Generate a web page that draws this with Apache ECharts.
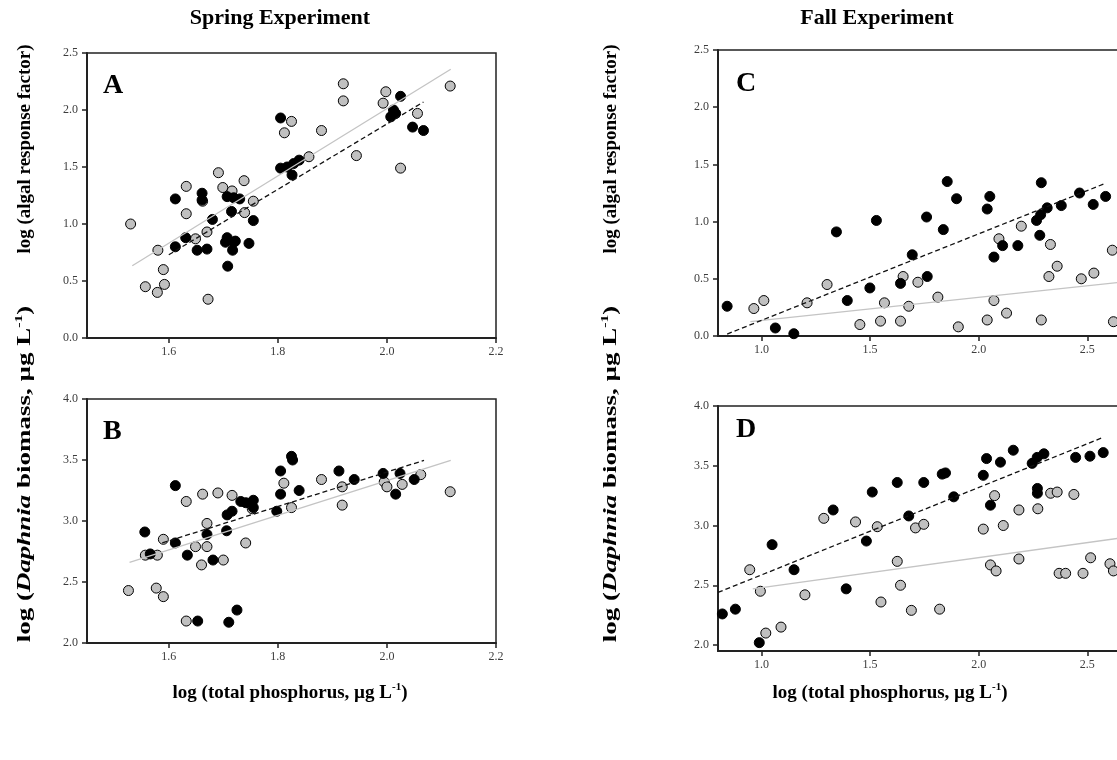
<!DOCTYPE html>
<html><head><meta charset="utf-8">
<script src="https://cdn.jsdelivr.net/npm/echarts@6/dist/echarts.min.js"></script>
<style>html,body{margin:0;padding:0;background:#fff}#c{width:1117px;height:760px}</style>
</head><body><div id="c"></div>
<script>
// ---------- DATA ----------
const springAlgaeBlack = [[1.612,1.22],[1.661,1.27],[1.661,1.21],[1.707,1.24],[1.719,1.23],[1.73,1.22],[1.715,1.11],[1.68,1.04],[1.755,1.03],[1.631,0.88],[1.707,0.88],[1.722,0.85],[1.747,0.83],[1.612,0.80],[1.652,0.77],[1.67,0.78],[1.704,0.84],[1.719,0.84],[1.717,0.77],[1.708,0.63],[2.025,2.12],[2.012,2.0],[2.007,1.94],[2.016,1.97],[2.047,1.85],[2.067,1.82],[1.805,1.93],[1.805,1.49],[1.817,1.50],[1.829,1.53],[1.839,1.56],[1.826,1.43]];
const springAlgaeGray = [[1.530,1.00],[1.691,1.45],[1.738,1.38],[1.632,1.33],[1.662,1.20],[1.699,1.32],[1.716,1.29],[1.755,1.20],[1.632,1.09],[1.739,1.10],[1.67,0.93],[1.649,0.87],[1.58,0.77],[1.59,0.60],[1.557,0.45],[1.579,0.40],[1.592,0.47],[1.672,0.34],[1.92,2.23],[1.92,2.08],[1.998,2.16],[1.993,2.06],[2.116,2.21],[2.056,1.97],[1.825,1.90],[1.812,1.80],[1.88,1.82],[1.944,1.60],[2.025,1.49],[1.857,1.59]];
const springAlgaeFitBlack = [[1.6,0.73],[2.067,2.07]];
const springAlgaeFitGray = [[1.533,0.634],[2.117,2.357]];

const springDaphBlack = [[1.612,3.29],[1.732,3.16],[1.741,3.15],[1.755,3.17],[1.755,3.11],[1.707,3.05],[1.716,3.08],[1.805,3.41],[1.825,3.53],[1.827,3.50],[1.805,3.22],[1.839,3.25],[1.912,3.41],[1.94,3.34],[1.798,3.08],[1.993,3.39],[2.024,3.39],[2.016,3.22],[2.05,3.34],[1.67,2.89],[1.706,2.92],[1.556,2.91],[1.612,2.82],[1.634,2.72],[1.566,2.73],[1.681,2.68],[1.653,2.18],[1.71,2.17],[1.725,2.27]];
const springDaphGray = [[1.632,3.16],[1.662,3.22],[1.69,3.23],[1.716,3.21],[1.753,3.10],[1.811,3.31],[1.88,3.34],[1.918,3.28],[1.918,3.13],[1.825,3.11],[1.995,3.32],[2.0,3.28],[2.028,3.30],[2.062,3.38],[2.116,3.24],[1.67,2.98],[1.741,2.82],[1.59,2.85],[1.649,2.79],[1.67,2.79],[1.557,2.72],[1.579,2.72],[1.70,2.68],[1.526,2.43],[1.577,2.45],[1.59,2.38],[1.632,2.18],[1.66,2.64]];
const springDaphFitBlack = [[1.588,2.82],[2.068,3.497]];
const springDaphFitGray = [[1.528,2.66],[2.117,3.497]];

const fallAlgaeBlack = [[0.842,0.26],[1.064,0.07],[1.149,0.02],[1.395,0.31],[1.499,0.42],[1.64,0.46],[1.694,0.71],[1.763,0.52],[2.07,0.69],[1.345,0.91],[1.529,1.01],[1.76,1.04],[1.837,0.93],[1.855,1.35],[1.898,1.20],[2.039,1.11],[2.051,1.22],[2.288,1.34],[2.266,1.01],[2.285,1.06],[2.315,1.12],[2.38,1.14],[2.464,1.25],[2.527,1.15],[2.584,1.22],[2.281,0.88],[2.11,0.79],[2.18,0.79]];
const fallAlgaeGray = [[0.965,0.24],[1.011,0.31],[1.21,0.29],[1.302,0.45],[1.453,0.10],[1.548,0.13],[1.566,0.29],[1.652,0.52],[1.64,0.13],[1.678,0.26],[1.72,0.47],[1.812,0.34],[1.906,0.08],[2.039,0.14],[2.07,0.31],[2.128,0.20],[2.288,0.14],[2.323,0.52],[2.361,0.61],[2.472,0.50],[2.53,0.55],[2.615,0.75],[2.62,0.125],[2.196,0.96],[2.093,0.85],[2.33,0.80]];
const fallAlgaeFitBlack = [[0.842,0.017],[2.584,1.335]];
const fallAlgaeFitGray = [[0.949,0.125],[2.75,0.49]];

const fallDaphBlack = [[2.036,3.56],[2.1,3.53],[2.159,3.63],[2.246,3.52],[2.269,3.57],[2.3,3.60],[2.446,3.57],[2.512,3.58],[2.573,3.61],[2.021,3.42],[1.832,3.43],[1.847,3.44],[1.747,3.36],[1.625,3.36],[1.51,3.28],[1.33,3.13],[1.678,3.08],[1.885,3.24],[1.483,2.87],[1.049,2.84],[2.054,3.17],[2.27,3.31],[2.27,3.27],[0.82,2.26],[0.88,2.30],[0.99,2.02],[1.15,2.63],[1.39,2.47]];
const fallDaphGray = [[1.287,3.06],[1.433,3.03],[1.533,2.99],[1.709,2.98],[1.747,3.01],[2.073,3.25],[2.021,2.97],[2.113,3.0],[2.185,3.13],[2.272,3.14],[2.331,3.27],[2.361,3.28],[2.438,3.26],[1.625,2.70],[2.185,2.72],[2.054,2.67],[2.515,2.73],[2.604,2.68],[0.946,2.63],[0.995,2.45],[1.02,2.10],[1.09,2.15],[1.2,2.42],[1.55,2.36],[1.64,2.50],[1.69,2.29],[1.82,2.30],[2.08,2.62],[2.37,2.60],[2.40,2.60],[2.48,2.60],[2.62,2.62]];
const fallDaphFitBlack = [[0.80,2.44],[2.576,3.74]];
const fallDaphFitGray = [[0.96,2.47],[2.75,2.92]];

const springXTicks = [1.6,1.8,2.0,2.2];
const fallXTicks = [1.0,1.5,2.0,2.5,3.0];
const algaeYTicks = [0.0,0.5,1.0,1.5,2.0,2.5];
const daphYTicks = [2.0,2.5,3.0,3.5,4.0];

// ---------- CHART ----------
const serif = 'Liberation Serif, Times New Roman, serif';
const chart = echarts.init(document.getElementById('c'));
const grids = [
  {left:87, top:53, width:409, height:285},   // A
  {left:87, top:399, width:409, height:244},  // B
  {left:718, top:50, width:478, height:286},  // C
  {left:718, top:406, width:478, height:245}  // D
].map(g => Object.assign({show:true, borderColor:'#222', borderWidth:1.5, backgroundColor:'transparent', containLabel:false, outerBoundsMode:'none'}, g));

function xAx(i, min, max, ticks){
  return {type:'value', gridIndex:i, min, max,
    axisLine:{show:true, onZero:false, lineStyle:{color:'#222', width:2}},
    axisTick:{show:true, customValues:ticks, length:5, inside:false, lineStyle:{color:'#222', width:1.5}},
    axisLabel:{show:true, customValues:ticks, color:'#3c3c3c', fontFamily:serif, fontSize:12, margin:8,
      formatter: v => v.toFixed(1)},
    splitLine:{show:false}};
}
function yAx(i, min, max, ticks){
  return {type:'value', gridIndex:i, min, max,
    axisLine:{show:true, onZero:false, lineStyle:{color:'#222', width:2}},
    axisTick:{show:true, customValues:ticks, length:5, inside:false, lineStyle:{color:'#222', width:1.5}},
    axisLabel:{show:true, customValues:ticks, color:'#3c3c3c', fontFamily:serif, fontSize:12, margin:9,
      formatter: v => v.toFixed(1)},
    splitLine:{show:false}};
}
function pts(i, data, fill){
  return {type:'scatter', xAxisIndex:i, yAxisIndex:i, data, symbol:'circle', symbolSize:10,
    itemStyle:{color:fill, borderColor:'#000', borderWidth:1, opacity:1}, z:3, silent:true};
}
function fit(i, data, dashed){
  return {type:'line', xAxisIndex:i, yAxisIndex:i, data, symbol:'none', silent:true, z:4,
    lineStyle: dashed ? {color:'#111', width:1.3, type:[5,3]} : {color:'#c4c4c4', width:1.3}};
}

const supRich = {
  a:{fontFamily:serif, fontWeight:'bold', fontSize:19, color:'#000', lineHeight:22},
  i:{fontFamily:serif, fontWeight:'bold', fontStyle:'italic', fontSize:19, color:'#000', lineHeight:22},
  s:{fontFamily:serif, fontWeight:'bold', fontSize:11, color:'#000', verticalAlign:'top', lineHeight:22, padding:[0,0,9,0]}
};
const daphLabel = '{a|log (}{i|Daphnia}{a| biomass, µg L}{s|-1}{a|)}';
const tpLabel = '{a|log (total phosphorus, µg L}{s|-1}{a|)}';

const option = {
  animation:false,
  backgroundColor:'#fff',
  grid: grids,
  xAxis:[xAx(0,1.45,2.2,springXTicks), xAx(1,1.45,2.2,springXTicks), xAx(2,0.8,3.0,fallXTicks), xAx(3,0.8,3.0,fallXTicks)],
  yAxis:[yAx(0,0,2.5,algaeYTicks), yAx(1,2.0,4.0,daphYTicks), yAx(2,0,2.5,algaeYTicks), yAx(3,1.95,4.0,daphYTicks)],
  series:[
    pts(0, springAlgaeGray, '#c0c0c0'), pts(0, springAlgaeBlack, '#000'),
    fit(0, springAlgaeFitGray, false), fit(0, springAlgaeFitBlack, true),
    pts(1, springDaphGray, '#c0c0c0'), pts(1, springDaphBlack, '#000'),
    fit(1, springDaphFitGray, false), fit(1, springDaphFitBlack, true),
    pts(2, fallAlgaeGray, '#c0c0c0'), pts(2, fallAlgaeBlack, '#000'),
    fit(2, fallAlgaeFitGray, false), fit(2, fallAlgaeFitBlack, true),
    pts(3, fallDaphGray, '#c0c0c0'), pts(3, fallDaphBlack, '#000'),
    fit(3, fallDaphFitGray, false), fit(3, fallDaphFitBlack, true)
  ],
  graphic:[
    {type:'text', x:280, y:18, style:{text:'Spring Experiment', font:'bold 22px '+serif, fill:'#000', align:'center', verticalAlign:'middle'}},
    {type:'text', x:877, y:18, style:{text:'Fall Experiment', font:'bold 22px '+serif, fill:'#000', align:'center', verticalAlign:'middle'}},
    {type:'text', x:103, y:72, style:{text:'A', font:'bold 28px '+serif, fill:'#000'}},
    {type:'text', x:103, y:418, style:{text:'B', font:'bold 28px '+serif, fill:'#000'}},
    {type:'text', x:736, y:70, style:{text:'C', font:'bold 28px '+serif, fill:'#000'}},
    {type:'text', x:736, y:416, style:{text:'D', font:'bold 28px '+serif, fill:'#000'}},
    {type:'text', x:25, y:149, rotation:Math.PI/2, style:{text:'log (algal response factor)', font:'bold 19px '+serif, fill:'#000', align:'center', verticalAlign:'middle'}},
    {type:'text', x:611, y:149, rotation:Math.PI/2, style:{text:'log (algal response factor)', font:'bold 19px '+serif, fill:'#000', align:'center', verticalAlign:'middle'}},
    {type:'text', x:25, y:474, rotation:Math.PI/2, scaleX:1.42, style:{text:daphLabel, rich:supRich, align:'center', verticalAlign:'middle'}},
    {type:'text', x:611, y:474, rotation:Math.PI/2, scaleX:1.42, style:{text:daphLabel, rich:supRich, align:'center', verticalAlign:'middle'}},
    {type:'text', x:290, y:693, style:{text:tpLabel, rich:supRich, align:'center', verticalAlign:'middle'}},
    {type:'text', x:890, y:693, style:{text:tpLabel, rich:supRich, align:'center', verticalAlign:'middle'}}
  ]
};
chart.setOption(option);
</script></body></html>
